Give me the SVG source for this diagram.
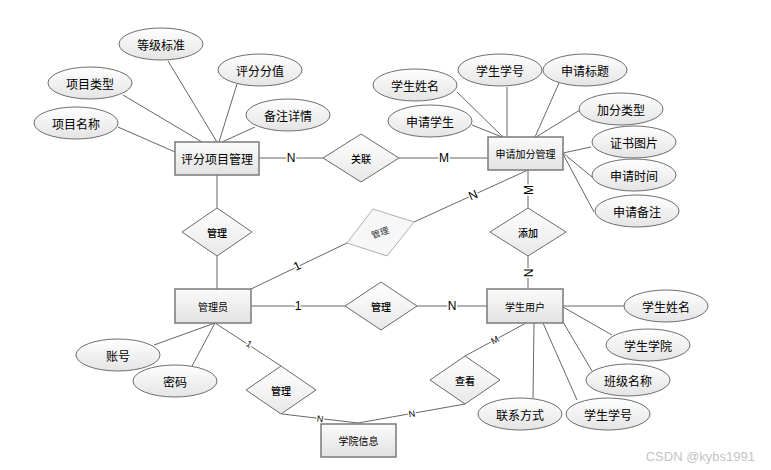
<svg xmlns="http://www.w3.org/2000/svg" width="771" height="470" viewBox="0 0 771 470">
<defs>
<linearGradient id="gE" x1="0" y1="0" x2="0" y2="1"><stop offset="0" stop-color="#ffffff"/><stop offset="1" stop-color="#e4e4e4"/></linearGradient>
<linearGradient id="gR" x1="0" y1="0" x2="0" y2="1"><stop offset="0" stop-color="#fbfbfb"/><stop offset="1" stop-color="#e2e2e2"/></linearGradient>
<linearGradient id="gD" x1="0" y1="0" x2="0" y2="1"><stop offset="0" stop-color="#ffffff"/><stop offset="1" stop-color="#e8e8e8"/></linearGradient>
<style>
text{font-family:"Noto Sans CJK SC","Liberation Sans",sans-serif;fill:#000;text-anchor:middle;dominant-baseline:central}
.attr ellipse{fill:url(#gE);stroke:#6e6e6e;stroke-width:1}
.attr text{font-size:12px}
.ent rect{fill:url(#gR);stroke:#7a7a7a;stroke-width:1.5}
.ent text{font-size:10px}
.rel polygon{fill:url(#gD);stroke:#6a6a6a;stroke-width:1}
.rel text{font-size:10px;font-weight:500}
#conn line{stroke:#666;stroke-width:1}
.lb{font-family:"Liberation Sans",sans-serif;font-size:12px;fill:#000;stroke:#fff;stroke-width:3;paint-order:stroke}
.ls{font-family:"Liberation Sans",sans-serif;font-size:9px;fill:#000;stroke:#fff;stroke-width:2.5;paint-order:stroke}
</style>
</defs>
<rect width="771" height="470" fill="#fff"/>
<g id="conn">
<line x1="118" y1="127" x2="175" y2="152"/>
<line x1="123" y1="95" x2="202" y2="142"/>
<line x1="168" y1="61" x2="217" y2="142"/>
<line x1="237" y1="84" x2="219" y2="142"/>
<line x1="255" y1="127" x2="222" y2="142"/>
<line x1="259" y1="158" x2="323" y2="158"/>
<line x1="217" y1="175" x2="217" y2="208"/>
<line x1="399" y1="158" x2="488" y2="158"/>
<line x1="457" y1="92" x2="503" y2="137"/>
<line x1="507" y1="87" x2="507" y2="137"/>
<line x1="472" y1="125" x2="502" y2="137"/>
<line x1="559" y1="83" x2="535" y2="137"/>
<line x1="580" y1="110" x2="536" y2="137"/>
<line x1="591" y1="147" x2="563" y2="153"/>
<line x1="592" y1="177" x2="563" y2="153"/>
<line x1="594" y1="212" x2="563" y2="154"/>
<line x1="528" y1="170" x2="528" y2="208"/>
<line x1="528" y1="256" x2="528" y2="289"/>
<line x1="217" y1="256" x2="217" y2="289"/>
<line x1="251" y1="289" x2="347" y2="243"/>
<line x1="414" y1="222" x2="528" y2="170"/>
<line x1="251" y1="306" x2="345" y2="306"/>
<line x1="417" y1="306" x2="487" y2="306"/>
<line x1="563" y1="306" x2="624" y2="306"/>
<line x1="563" y1="307" x2="612" y2="335"/>
<line x1="563" y1="322" x2="592" y2="371"/>
<line x1="543" y1="323" x2="577" y2="400"/>
<line x1="534" y1="323" x2="533" y2="398"/>
<line x1="526" y1="323" x2="465" y2="356"/>
<line x1="465" y1="404" x2="358" y2="423"/>
<line x1="282" y1="414" x2="358" y2="423"/>
<line x1="215" y1="323" x2="281" y2="366"/>
<line x1="215" y1="323" x2="154" y2="345"/>
<line x1="215" y1="323" x2="192" y2="366"/>
<text class="lb" x="291" y="158">N</text>
<text class="lb" x="444" y="158">M</text>
<text class="lb" transform="translate(529,190) rotate(-90)">M</text>
<text class="lb" transform="translate(529,273) rotate(-90)">N</text>
<text class="lb" transform="translate(297,266) rotate(-25)">1</text>
<text class="lb" transform="translate(473,195) rotate(-24)">N</text>
<text class="lb" x="298" y="306">1</text>
<text class="lb" x="452" y="306">N</text>
<text class="ls" transform="translate(495,340) rotate(-28)">M</text>
<text class="ls" transform="translate(412,414) rotate(-10)">N</text>
<text class="ls" transform="translate(320,419) rotate(7)">N</text>
<text class="ls" transform="translate(249,344) rotate(33)">1</text>
</g>
<g id="e_pingfen" class="ent"><rect x="175" y="142" width="84" height="33"/><text x="217" y="158.5" style="font-size:12px">评分项目管理</text></g>
<g id="e_shenqing" class="ent"><rect x="488" y="137" width="75" height="33"/><text x="525.5" y="153.5">申请加分管理</text></g>
<g id="e_admin" class="ent"><rect x="175" y="289" width="76" height="34"/><text x="213" y="306">管理员</text></g>
<g id="e_student" class="ent"><rect x="487" y="289" width="76" height="34"/><text x="525" y="306">学生用户</text></g>
<g id="e_college" class="ent"><rect x="321" y="424" width="75" height="33"/><text x="358.5" y="440.5">学院信息</text></g>
<g id="r_guanlian" class="rel"><polygon points="323,158 361,134 399,158 361,182"/><text x="361" y="158">关联</text></g>
<g id="r_guanli1" class="rel"><polygon points="182,232 217,208 252,232 217,256"/><text x="217" y="232">管理</text></g>
<g id="r_tianjia" class="rel"><polygon points="490,232 528,208 566,232 528,256"/><text x="528" y="232">添加</text></g>
<g id="r_guanli2" class="rel"><polygon points="347,243 373,209 414,222 387,256" style="stroke:#b0b0b0;fill:#f7f7f7"/><text transform="translate(380,232.5) rotate(-20)" style="font-size:9px;font-weight:normal;fill:#333">管理</text></g>
<g id="r_guanli3" class="rel"><polygon points="345,306 381,282 417,306 381,330"/><text x="381" y="306">管理</text></g>
<g id="r_guanli4" class="rel"><polygon points="246,390 281,366 316,390 281,414"/><text x="281" y="390">管理</text></g>
<g id="r_chakan" class="rel"><polygon points="430,380 465,356 500,380 465,404"/><text x="465" y="380">查看</text></g>
<g id="a_djbz" class="attr"><ellipse cx="161" cy="44" rx="42" ry="16"/><text x="161" y="44">等级标准</text></g>
<g id="a_xmlx" class="attr"><ellipse cx="90" cy="83" rx="42" ry="16"/><text x="90" y="83">项目类型</text></g>
<g id="a_xmmc" class="attr"><ellipse cx="76" cy="123" rx="42" ry="16"/><text x="76" y="123">项目名称</text></g>
<g id="a_pffz" class="attr"><ellipse cx="260" cy="70" rx="42" ry="16"/><text x="260" y="70">评分分值</text></g>
<g id="a_bzxq" class="attr"><ellipse cx="288" cy="115" rx="42" ry="16"/><text x="288" y="115">备注详情</text></g>
<g id="a_xsxm1" class="attr"><ellipse cx="415" cy="85" rx="42" ry="16"/><text x="415" y="85">学生姓名</text></g>
<g id="a_xsxh1" class="attr"><ellipse cx="500" cy="70" rx="42" ry="16"/><text x="500" y="70">学生学号</text></g>
<g id="a_sqbt" class="attr"><ellipse cx="585" cy="70" rx="42" ry="16"/><text x="585" y="70">申请标题</text></g>
<g id="a_sqxs" class="attr"><ellipse cx="430" cy="121" rx="42" ry="16"/><text x="430" y="121">申请学生</text></g>
<g id="a_jflx" class="attr"><ellipse cx="621" cy="109" rx="42" ry="16"/><text x="621" y="109">加分类型</text></g>
<g id="a_zstp" class="attr"><ellipse cx="634" cy="142" rx="42" ry="16"/><text x="634" y="142">证书图片</text></g>
<g id="a_sqsj" class="attr"><ellipse cx="634" cy="175" rx="42" ry="16"/><text x="634" y="175">申请时间</text></g>
<g id="a_sqbz" class="attr"><ellipse cx="637" cy="211" rx="42" ry="16"/><text x="637" y="211">申请备注</text></g>
<g id="a_zh" class="attr"><ellipse cx="118" cy="355" rx="42" ry="16"/><text x="118" y="355">账号</text></g>
<g id="a_mm" class="attr"><ellipse cx="175" cy="381" rx="42" ry="16"/><text x="175" y="381">密码</text></g>
<g id="a_xsxm2" class="attr"><ellipse cx="666" cy="306" rx="42" ry="16"/><text x="666" y="306">学生姓名</text></g>
<g id="a_xsxy" class="attr"><ellipse cx="648" cy="345" rx="42" ry="16"/><text x="648" y="345">学生学院</text></g>
<g id="a_bjmc" class="attr"><ellipse cx="628" cy="380" rx="42" ry="16"/><text x="628" y="380">班级名称</text></g>
<g id="a_xsxh2" class="attr"><ellipse cx="608" cy="414" rx="42" ry="16"/><text x="608" y="414">学生学号</text></g>
<g id="a_lxfs" class="attr"><ellipse cx="520" cy="414" rx="42" ry="16"/><text x="520" y="414">联系方式</text></g>
<text x="755" y="456" style="text-anchor:end;font-family:'Liberation Sans',sans-serif;font-size:13px;fill:#c4c4c4">CSDN @kybs1991</text>
</svg>
